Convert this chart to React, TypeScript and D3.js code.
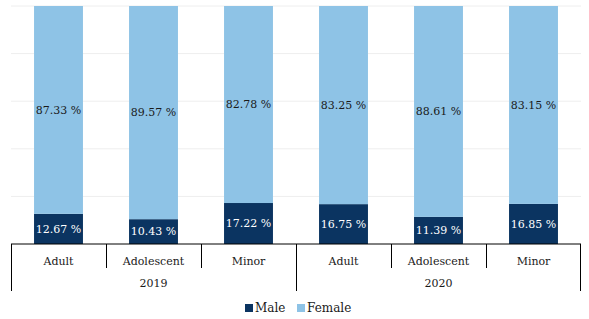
import React from "react";
import * as d3 from "d3";

const groups = ["2019", "2020"];
const categories = ["Adult", "Adolescent", "Minor"];
const maleValues = [12.67, 10.43, 17.22, 16.75, 11.39, 16.85];
const femaleValues = [87.33, 89.57, 82.78, 83.25, 88.61, 83.15];
const seriesNames = ["Male", "Female"];
const colors = ["#0b3461", "#8ec3e6"];
const gridTicks = [0, 20, 40, 60, 80, 100];

const W = 589, H = 319;
const left = 11, right = 581, top = 6, bottom = 244;
const font = "DejaVu Serif";
const fs = 11;

export default function App() {
  const keys = groups.flatMap((g) => categories.map((c) => g + "|" + c));
  const x = d3.scaleBand().domain(keys).range([left, right]).paddingInner(0.485).paddingOuter(0.2425);
  const xStep = (right - left) / keys.length;
  const y = d3.scaleLinear().domain([0, 100]).range([bottom, top]);
  const rows = keys.map((k, i) => ({ key: k, Male: maleValues[i], Female: femaleValues[i] }));
  const stack = d3.stack<any>().keys(seriesNames)(rows);

  return (
    <svg width={W} height={H} style={{ position: "absolute", left: 0, top: 0, background: "#fff" }} fontFamily={font} fontSize={fs}>
      {gridTicks.slice(1).map((t) => (
        <line key={t} x1={left} x2={right} y1={y(t)} y2={y(t)} stroke="#eeeeee" strokeWidth={1} />
      ))}
      {stack.map((s, si) =>
        s.map((d, i) => {
          const bx = x(keys[i])!;
          const y0 = y(d[0]), y1 = y(d[1]);
          const v = si === 0 ? maleValues[i] : femaleValues[i];
          return (
            <g key={si + "-" + i}>
              <rect x={bx} y={y1} width={x.bandwidth()} height={y0 - y1} fill={colors[si]} />
              <text
                x={bx + x.bandwidth() / 2}
                y={(y0 + y1) / 2}
                dy="0.35em"
                textAnchor="middle"
                fill={si === 0 ? "#ffffff" : "#1a1a1a"}
              >
                {v.toFixed(2) + " %"}
              </text>
            </g>
          );
        })
      )}
      <line x1={left} x2={right} y1={bottom} y2={bottom} stroke="#000" strokeWidth={1} />
      {keys.map((k, i) => {
        const xs = left + i * xStep;
        const isGroupEdge = i % categories.length === 0;
        return (
          <line key={"t" + i} x1={xs + 0.5} x2={xs + 0.5} y1={bottom} y2={isGroupEdge ? 291 : 268} stroke="#000" strokeWidth={1} />
        );
      })}
      <line x1={right - 0.5} x2={right - 0.5} y1={bottom} y2={291} stroke="#000" strokeWidth={1} />
      {keys.map((k, i) => (
        <text key={"c" + i} x={x(k)! + x.bandwidth() / 2} y={261} dy="0.35em" textAnchor="middle" fill="#1a1a1a">
          {categories[i % categories.length]}
        </text>
      ))}
      {groups.map((g, gi) => (
        <text key={g} x={left + (gi + 0.5) * categories.length * xStep} y={283} dy="0.35em" textAnchor="middle" fill="#1a1a1a">
          {g}
        </text>
      ))}
      <g>
        <rect x={245} y={304} width={8} height={8} fill={colors[0]} />
        <text x={255} y={308} dy="0.35em" fill="#1a1a1a" fontSize={12}>{seriesNames[0]}</text>
        <rect x={297} y={304} width={8} height={8} fill={colors[1]} />
        <text x={307} y={308} dy="0.35em" fill="#1a1a1a" fontSize={12}>{seriesNames[1]}</text>
      </g>
    </svg>
  );
}
